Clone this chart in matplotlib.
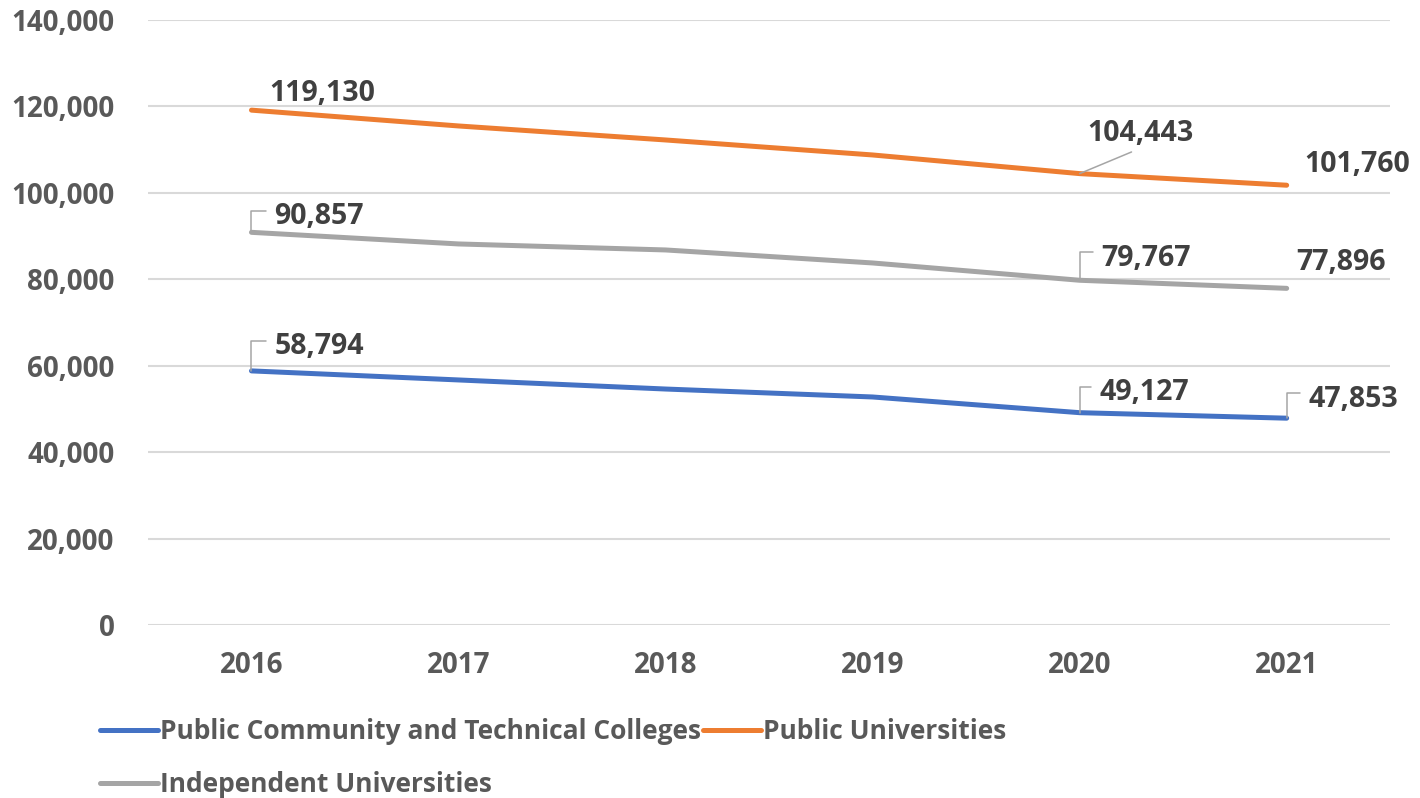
import matplotlib.pyplot as plt

plt.rcParams["font.family"] = ["Open Sans", "DejaVu Sans"]
plt.rcParams["font.weight"] = "bold"

years = ["2016", "2017", "2018", "2019", "2020", "2021"]
community = [58794, 56700, 54600, 52760, 49127, 47853]
public_univ = [119130, 115470, 112230, 108760, 104443, 101760]
independent = [90857, 88170, 86780, 83770, 79767, 77896]

# label offsets in pixels and leader style per labelled point
labels = [
    (community, 0, (23, 24), "elbow"),
    (community, 4, (20, 20), "elbow"),
    (community, 5, (22, 19), "elbow"),
    (public_univ, 0, (18, 17), None),
    (public_univ, 4, (8, 40), "straight"),
    (public_univ, 5, (18, 21), None),
    (independent, 0, (23, 16), "elbow"),
    (independent, 4, (22, 22), "elbow"),
    (independent, 5, (10, 26), None),
]


def main():
    fig = plt.figure(figsize=(14.2, 7.98), dpi=100)
    ax = fig.add_axes([0.1042, 0.2168, 0.8748, 0.7582])
    x = range(len(years))

    l1, = ax.plot(x, community, color="#4472C4", lw=3.6, solid_capstyle="round",
                  label="Public Community and Technical Colleges")
    l2, = ax.plot(x, public_univ, color="#ED7D31", lw=3.6, solid_capstyle="round",
                  label="Public Universities")
    l3, = ax.plot(x, independent, color="#A5A5A5", lw=3.6, solid_capstyle="round",
                  label="Independent Universities")

    for series, i, off, leader in labels:
        props = None
        if leader == "elbow":
            props = dict(arrowstyle="-", color="#A5A5A5", lw=1.1, shrinkA=4, shrinkB=0,
                         relpos=(0, 0.7), connectionstyle="angle,angleA=0,angleB=90,rad=0")
        elif leader == "straight":
            props = dict(arrowstyle="-", color="#A5A5A5", lw=1.1, shrinkA=2, shrinkB=0,
                         relpos=(0.5, 0))
        ax.annotate(f"{series[i]:,}", xy=(i, series[i]), xytext=off, textcoords="offset pixels",
                    ha="left", va="center", fontsize=20.5, fontweight="bold", color="#404040",
                    arrowprops=props)

    ax.set_xlim(-0.5, 5.5)
    ax.set_ylim(0, 140000)
    ax.set_yticks(range(0, 140001, 20000))
    ax.set_yticklabels([f"{v:,}" for v in range(0, 140001, 20000)])
    ax.set_xticks(list(x))
    ax.set_xticklabels(years)
    ax.tick_params(axis="both", length=0, labelsize=20, labelcolor="#595959")
    ax.tick_params(axis="x", pad=19)
    ax.tick_params(axis="y", pad=24)
    for lab in ax.get_xticklabels() + ax.get_yticklabels():
        lab.set_fontweight("bold")
    ax.grid(axis="y", color="#D9D9D9", lw=1.5)
    ax.set_axisbelow(True)
    for s in ax.spines.values():
        s.set_visible(False)

    leg = fig.legend([l1, l3, l2], [l1.get_label(), l3.get_label(), l2.get_label()],
                     ncol=2, loc="lower left", bbox_to_anchor=(0.054, -0.03), frameon=False,
                     prop={"size": 19, "weight": "bold"}, handlelength=2.2, handletextpad=0.05,
                     columnspacing=0.1, labelspacing=0.98)
    for t in leg.get_texts():
        t.set_color("#595959")

    fig.savefig("out.png", dpi=100)


if __name__ == "__main__":
    main()
